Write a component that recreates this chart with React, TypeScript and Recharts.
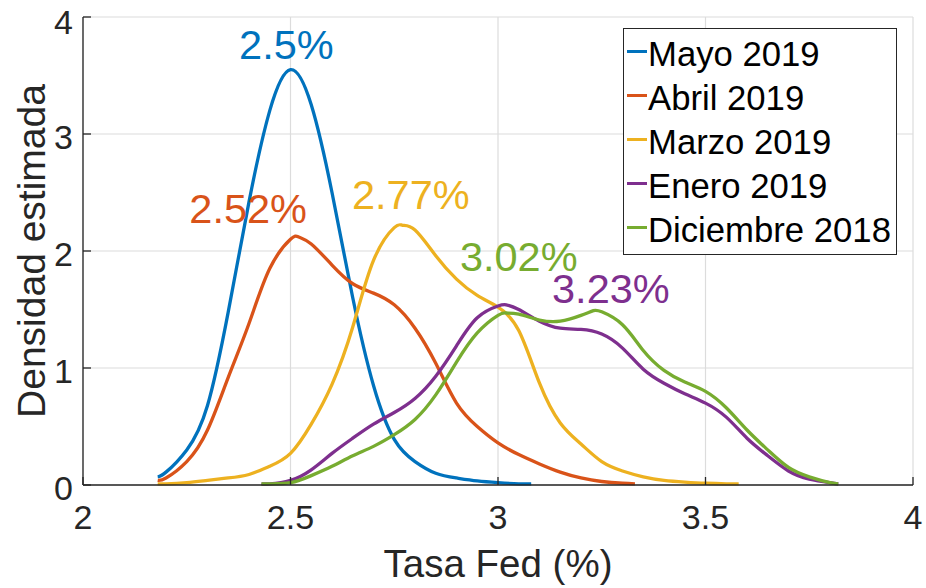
import {
  LineChart,
  Line,
  XAxis,
  YAxis,
  CartesianGrid,
  Legend,
  ReferenceDot,
} from 'recharts';

const FONT = '"Liberation Sans", Arial, Helvetica, sans-serif';

// Mayo 2019
const mayoX = [2.18, 2.2, 2.25, 2.3, 2.35, 2.4, 2.45, 2.5, 2.55, 2.6, 2.65, 2.7, 2.75, 2.8, 2.85, 2.9, 2.95, 3.0, 3.05, 3.08];
const mayoY = [0.07, 0.11, 0.3, 0.68, 1.48, 2.42, 3.2, 3.55, 3.25, 2.5, 1.6, 0.85, 0.39, 0.2, 0.1, 0.06, 0.035, 0.02, 0.01, 0.01];

// Abril 2019
const abrilX = [2.18, 2.2, 2.25, 2.3, 2.35, 2.4, 2.45, 2.5, 2.52, 2.55, 2.6, 2.65, 2.7, 2.75, 2.8, 2.85, 2.9, 2.95, 3.0, 3.05, 3.1, 3.15, 3.2, 3.25, 3.3, 3.33];
const abrilY = [0.04, 0.06, 0.2, 0.47, 0.92, 1.38, 1.85, 2.1, 2.12, 2.06, 1.88, 1.72, 1.64, 1.54, 1.34, 1.04, 0.7, 0.5, 0.36, 0.26, 0.18, 0.11, 0.06, 0.03, 0.015, 0.01];

// Marzo 2019
const marzoX = [2.18, 2.2, 2.25, 2.3, 2.35, 2.4, 2.45, 2.5, 2.55, 2.6, 2.65, 2.7, 2.75, 2.77, 2.8, 2.85, 2.9, 2.95, 3.0, 3.05, 3.1, 3.15, 3.2, 3.25, 3.3, 3.35, 3.4, 3.45, 3.5, 3.55, 3.58];
const marzoY = [0.01, 0.01, 0.02, 0.04, 0.06, 0.09, 0.16, 0.27, 0.52, 0.86, 1.35, 1.92, 2.2, 2.22, 2.18, 1.96, 1.76, 1.62, 1.52, 1.32, 0.87, 0.53, 0.35, 0.2, 0.12, 0.07, 0.04, 0.025, 0.015, 0.01, 0.01];

// Enero 2019
const eneroX = [2.43, 2.45, 2.5, 2.55, 2.6, 2.65, 2.7, 2.75, 2.8, 2.85, 2.9, 2.95, 3.0, 3.02, 3.05, 3.1, 3.15, 3.2, 3.25, 3.3, 3.35, 3.4, 3.45, 3.5, 3.55, 3.6, 3.65, 3.7, 3.75, 3.8, 3.82];
const eneroY = [0.01, 0.01, 0.04, 0.13, 0.27, 0.4, 0.52, 0.62, 0.74, 0.93, 1.19, 1.43, 1.53, 1.54, 1.5, 1.4, 1.34, 1.33, 1.29, 1.17, 0.99, 0.87, 0.78, 0.7, 0.58, 0.4, 0.25, 0.12, 0.05, 0.02, 0.01];

// Diciembre 2018
const diciembreX = [2.43, 2.45, 2.5, 2.55, 2.6, 2.65, 2.7, 2.75, 2.8, 2.85, 2.9, 2.95, 3.0, 3.02, 3.05, 3.1, 3.15, 3.2, 3.23, 3.25, 3.3, 3.35, 3.4, 3.45, 3.5, 3.55, 3.6, 3.65, 3.7, 3.75, 3.8, 3.82];
const diciembreY = [0.01, 0.01, 0.02, 0.08, 0.16, 0.25, 0.33, 0.43, 0.56, 0.77, 1.05, 1.3, 1.45, 1.47, 1.46, 1.41, 1.4, 1.45, 1.49, 1.48, 1.37, 1.15, 0.98, 0.88, 0.8, 0.66, 0.47, 0.3, 0.15, 0.07, 0.02, 0.01];

const seriesNames = ['Mayo 2019', 'Abril 2019', 'Marzo 2019', 'Enero 2019', 'Diciembre 2018'];
const peakLabels = ['2.5%', '2.52%', '2.77%', '3.02%', '3.23%'];
const xTicks = [2, 2.5, 3, 3.5, 4];
const yTicks = [0, 1, 2, 3, 4];

const colors = ['#0072BD', '#D95319', '#EDB120', '#7E2F8E', '#77AC30'];
// label anchor points (centre of text) in data units, colour index per label
const labelSpots = [
  { x: 2.49, y: 3.77, c: 0 },
  { x: 2.398, y: 2.368, c: 1 },
  { x: 2.79, y: 2.481, c: 2 },
  { x: 3.05, y: 1.954, c: 4 },
  { x: 3.272, y: 1.678, c: 3 },
];

const toPoints = (xs: number[], ys: number[]) => xs.map((x, i) => ({ x, y: ys[i] }));

const series = [
  toPoints(mayoX, mayoY),
  toPoints(abrilX, abrilY),
  toPoints(marzoX, marzoY),
  toPoints(eneroX, eneroY),
  toPoints(diciembreX, diciembreY),
];

const renderLegend = () => (
  <div
    style={{
      width: 272,
      height: 222,
      border: '1.3px solid #262626',
      background: '#fff',
      boxSizing: 'content-box',
      paddingTop: 3,
      fontFamily: FONT,
      fontSize: 34.7,
      color: '#000',
    }}
  >
    {seriesNames.map((name, i) => (
      <div key={name} style={{ position: 'relative', height: 44, lineHeight: '44px', whiteSpace: 'nowrap' }}>
        <span
          style={{
            position: 'absolute',
            left: 3,
            top: 18,
            width: 19.5,
            height: 3.4,
            background: colors[i],
          }}
        />
        <span style={{ position: 'absolute', left: 24, top: 0 }}>{name}</span>
      </div>
    ))}
  </div>
);

export default function App() {
  return (
    <div style={{ position: 'absolute', left: 0, top: 0, width: 926, height: 588, background: '#fff' }}>
      <LineChart width={926} height={588} margin={{ top: 17, right: 13, left: 0, bottom: 0 }}>
        <CartesianGrid stroke="#dcdcdc" strokeWidth={1.2} />
        <XAxis
          type="number"
          dataKey="x"
          domain={[2, 4]}
          ticks={xTicks}
          height={103}
          tickSize={-8}
          tickMargin={28}
          stroke="#262626"
          strokeWidth={1.3}
          tick={{ fontSize: 34, fill: '#262626', fontFamily: FONT }}
          label={{
            value: 'Tasa Fed (%)',
            position: 'insideBottom',
            offset: 11,
            fontSize: 38.5,
            fill: '#262626',
            fontFamily: FONT,
          }}
        />
        <YAxis
          type="number"
          domain={[0, 4]}
          ticks={yTicks}
          width={83}
          tickSize={-8}
          tickMargin={18}
          stroke="#262626"
          strokeWidth={1.3}
          tick={{ fontSize: 34, fill: '#262626', fontFamily: FONT, dy: 3 }}
          label={{
            content: (props: any) => {
              const vb = props.viewBox || { x: 0, y: 17, width: 83, height: 468 };
              const cx = vb.x + 45;
              const cy = vb.y + vb.height / 2;
              return (
                <text
                  x={cx}
                  y={cy}
                  transform={`rotate(-90, ${cx}, ${cy})`}
                  textAnchor="middle"
                  fontSize={39}
                  fill="#262626"
                  fontFamily={FONT}
                >
                  Densidad estimada
                </text>
              );
            },
          }}
        />
        {series.map((pts, i) => (
          <Line
            key={seriesNames[i]}
            data={pts}
            dataKey="y"
            name={seriesNames[i]}
            type="natural"
            stroke={colors[i]}
            strokeWidth={3.3}
            strokeLinejoin="round"
            strokeLinecap="butt"
            dot={false}
            activeDot={false}
            isAnimationActive={false}
          />
        ))}
        {labelSpots.map((s, i) => (
          <ReferenceDot
            key={peakLabels[i]}
            x={s.x}
            y={s.y}
            r={0}
            fill="none"
            stroke="none"
            label={{
              value: peakLabels[i],
              position: 'center',
              fontSize: 41.5,
              fill: colors[s.c],
              fontFamily: FONT,
            }}
          />
        ))}
        <Legend
          layout="vertical"
          align="center"
          verticalAlign="middle"
          content={renderLegend}
          wrapperStyle={{ left: 623, top: 28, width: 275, height: 226 }}
        />
      </LineChart>
    </div>
  );
}
